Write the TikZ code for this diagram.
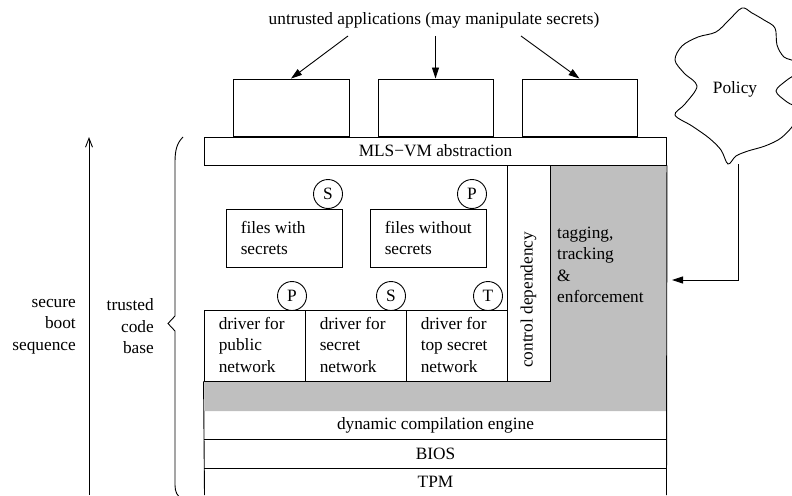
\documentclass[tikz,border=0pt]{standalone}
\usepackage{fontspec}
\setmainfont{Liberation Serif}
\usetikzlibrary{arrows.meta}
\definecolor{grayfill}{gray}{0.75}
\tikzset{
  box/.style={draw, line width=0.9pt, inner sep=0pt},
  tag/.style={draw, circle, line width=0.9pt, minimum size=29pt, inner sep=0pt},
  plain/.style={inner sep=0pt},
  lefttxt/.style={inner sep=0pt, anchor=west, align=left},
  arr/.style={line width=0.9pt, -{Triangle[length=11pt,width=7pt]}},
  openarr/.style={line width=0.9pt, -{Straight Barb[length=9pt,width=7pt]}},
  rule/.style={line width=0.9pt}
}
\begin{document}
\begin{tikzpicture}[x=1pt, y=-1pt, font=\fontsize{17.3pt}{21.5pt}\selectfont]
\useasboundingbox (0,0) rectangle (792,495);

% gray shaded L region
\fill[grayfill] (550,165) -- (666.5,165) -- (666.5,411) -- (204.5,411) -- (204.5,381) -- (550,381) -- cycle;

% title and application boxes
\node[plain] (title) at (434,20) {untrusted applications (may manipulate secrets)};
\node[box, minimum width=116pt, minimum height=57pt] (app1) at (291,107.5) {};
\node[box, minimum width=115pt, minimum height=57pt] (app2) at (435.5,107.5) {};
\node[box, minimum width=115pt, minimum height=57pt] (app3) at (579.5,107.5) {};
\coordinate (t1) at (348,36);
\coordinate (t2) at (435.5,36);
\coordinate (t3) at (521,36);
\draw[arr] (t1) -- (app1.north);
\draw[arr] (t2) -- (app2.north);
\draw[arr] (t3) -- (app3.north);

% MLS-VM bar
\node[box, minimum width=462pt, minimum height=28pt] (mls) at (435.5,151) {MLS\textminus VM abstraction};

% files
\node[box, minimum width=116pt, minimum height=58pt] (files1) at (284,238) {};
\node[box, minimum width=116pt, minimum height=58pt] (files2) at (428,238) {};
\node[lefttxt] (files1txt) at ([xshift=15pt]files1.west) {files with\\secrets};
\node[lefttxt] (files2txt) at ([xshift=15pt]files2.west) {files without\\secrets};
\node[tag] (s1) at (328,194) {S};
\node[tag] (p1) at (472,194) {P};

% drivers
\node[box, minimum width=101pt, minimum height=71pt] (drv1) at (254.5,345.5) {};
\node[box, minimum width=101pt, minimum height=71pt] (drv2) at (355.5,345.5) {};
\node[box, minimum width=101pt, minimum height=71pt] (drv3) at (456.5,345.5) {};
\node[lefttxt] (drv1txt) at ([xshift=15pt,yshift=1pt]drv1.west) {driver for\\public\\network};
\node[lefttxt] (drv2txt) at ([xshift=15pt,yshift=1pt]drv2.west) {driver for\\secret\\network};
\node[lefttxt] (drv3txt) at ([xshift=15pt,yshift=1pt]drv3.west) {driver for\\top secret\\network};
\node[tag] (p2) at (292,296) {P};
\node[tag] (s2) at (391,296) {S};
\node[tag] (t) at (488,296) {T};

% control dependency column
\node[box, minimum width=43pt, minimum height=216pt] (ctrl) at (528.5,273) {};
\node[plain, rotate=90] (ctrltext) at (528.5,300) {control dependency};

% tagging text
\node[lefttxt] (tagging) at (557,265) {tagging,\\tracking\\\&\\enforcement};

% bottom stack
\node[plain, minimum width=462pt, minimum height=28pt] (dce) at (435.5,425) {dynamic compilation engine};
\node[plain, minimum width=462pt, minimum height=29pt] (bios) at (435.5,453.5) {BIOS};
\node[plain, minimum width=462pt, minimum height=27pt] (tpm) at (435.5,481.5) {TPM};
\draw[rule] (dce.south west) -- (dce.south east);
\draw[rule] (bios.south west) -- (bios.south east);
\draw[rule] (drv1.south west) -- (204.5,495);
\draw[rule] (mls.south east) -- (666.5,495);

% policy cloud
\draw[line width=0.9pt] plot[smooth cycle, tension=0.55] coordinates {
 (742,8) (752,13) (764,20) (775,28) (777,45) (784,57) (796,62)
 (798,72) (787,80) (776,91) (787,102) (798,109)
 (794,124) (781,138) (765,146) (748,151) (736,156) (728,164)
 (721,150) (709,138) (692,126) (675,115) (685,104) (697,86)
 (684,73) (675,60) (682,46) (698,37) (716,32) (729,20)};
\node[plain] (policy) at (735,89) {Policy};
\coordinate (polout) at (738,164);
\coordinate (tagin) at (672,280);
\draw[arr] (polout) |- (tagin);

% secure boot arrow and labels
\coordinate (bootlo) at (89,495);
\coordinate (boothi) at (89,137);
\draw[openarr] (bootlo) -- (boothi);
\node[plain, anchor=east, align=right] (boot) at (76,326.5) {secure\\boot\\sequence};
\node[plain, anchor=east, align=right] (tcb) at (154,326.5) {trusted\\code\\base};

% brace
\draw[line width=0.9pt] (183,137) .. controls (177,143) and (175,150) .. (175,162) -- (175,316) -- (168,323.5) -- (175,331) -- (175,485) .. controls (175,492) and (177,496) .. (183,500);
\end{tikzpicture}
\end{document}
